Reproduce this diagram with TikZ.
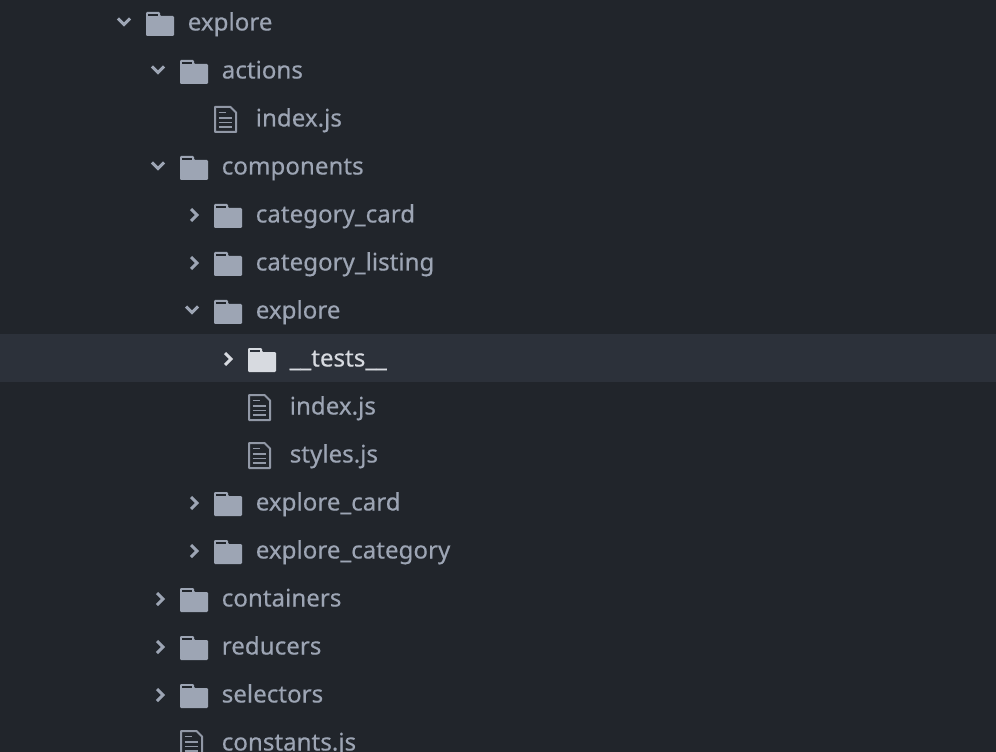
\documentclass[tikz,border=0pt]{standalone}
\usepackage{fontspec}
\setmainfont[RawFeature={embolden=0.35}]{Noto Sans}
\definecolor{panelbg}{HTML}{21252B}
\definecolor{rowbg}{HTML}{2C313A}
\definecolor{itemfg}{HTML}{9DA5B4}
\definecolor{itemhi}{HTML}{D7DAE0}
\tikzset{
  rowlabel/.style={anchor=base west,inner sep=0pt,font=\fontsize{18.1pt}{22pt}\selectfont,text=#1},
  rowlabel/.default=itemfg,
  pics/folderpic/.style 2 args={code={
    \fill[#1,rounded corners=0.8pt] (0,-12)--(0,12)--(28,12)--(28,-8)--(14,-8)--(14,-12)--cycle;
    \fill[#2] (2,-10) rectangle (12,-8);
  }},
  pics/filepic/.style={code={
    \draw[#1,line width=1.5pt,line join=round] (-10.5,-12)--(5,-12)--(10.5,-6.5)--(10.5,13)--(-10.5,13)--cycle;
    \draw[#1,line width=1.4pt] (-7,-6.5)--(0.5,-6.5) (-7,-1)--(6.5,-1) (-7,3.5)--(6.5,3.5) (-7,8)--(6.5,8);
  }},
  pics/chevdown/.style={code={
    \draw[#1,line width=2.2pt,line join=miter] (-6,-3.5)--(0,2.5)--(6,-3.5);
  }},
  pics/chevright/.style={code={
    \draw[#1,line width=2.2pt,line join=miter] (-3,-6)--(3,0)--(-3,6);
  }}
}
\begin{document}
\begin{tikzpicture}[x=0.75pt,y=-0.75pt]
\useasboundingbox (0,0) rectangle (996,752);
\clip (0,0) rectangle (996,752);
\fill[panelbg] (0,0) rectangle (996,752);
\fill[rowbg] (0,334) rectangle (996,382);
% folders: row / left edge / chevron x / chevron kind / name / text
\foreach \y/\xa/\xc/\yc/\kind/\nm/\txt in {
  22/146/124/22/chevdown/explore/explore,
  70/180/158/70/chevdown/actions/actions,
  166/180/158/166/chevdown/components/components,
  214/214/194/215/chevright/categorycard/category\_card,
  262/214/194/263/chevright/categorylisting/category\_listing,
  310/214/192/310/chevdown/exploreinner/explore,
  502/214/194/503/chevright/explorecard/explore\_card,
  550/214/194/551/chevright/explorecategory/explore\_category,
  598/180/160/599/chevright/containers/containers,
  646/180/160/647/chevright/reducers/reducers,
  694/180/160/695/chevright/selectors/selectors}
{
  \pic at (\xc,\yc) {\kind=itemfg};
  \pic at (\xa,\y+2) {folderpic={itemfg}{panelbg}};
  \node[rowlabel] (\nm) at (\xa+41.5,\y+8.5) {\txt};
}
\pic at (228,359) {chevright=itemhi};
\pic at (248,360) {folderpic={itemhi}{rowbg}};
\node[rowlabel=itemhi] (tests) at (289.5,366.5) {\_\_tests\_\_};
% files
\foreach \y/\xa/\nm/\txt in {
  118/214/actionsindex/index.js,
  406/248/exploreindex/index.js,
  454/248/explorestyles/styles.js,
  742/180/constants/constants.js}
{
  \pic at (\xa+11.5,\y+1) {filepic=itemfg!90!panelbg};
  \node[rowlabel] (\nm) at (\xa+41.5,\y+8.5) {\txt};
}
\end{tikzpicture}
\end{document}
